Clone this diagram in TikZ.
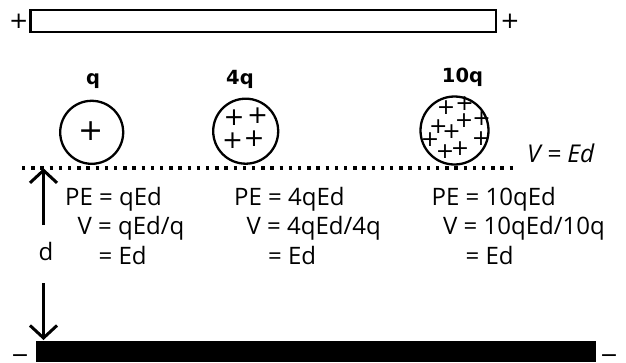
\documentclass[tikz,border=0pt]{standalone}
\usepackage{fontspec}
\setmainfont{Open Sans}
\newfontfamily\dejavu{DejaVu Sans}
\usetikzlibrary{arrows.meta}
\tikzset{
  body/.style={font=\fontsize{24}{28}\selectfont, inner sep=0pt, anchor=base west},
  lbl/.style={font=\dejavu\bfseries\fontsize{19.5}{22}\selectfont, inner sep=0pt, anchor=base},
  chg/.style={font=\dejavu\fontsize{#1}{#1}\selectfont, inner sep=0pt, anchor=center},
  mns/.style={font=\dejavu\fontsize{22}{22}\selectfont, inner sep=0pt, anchor=base},
  ball/.style={circle, draw, line width=2.3pt, inner sep=0pt},
  dist/.style={line width=3pt, -{Straight Barb[length=12.5pt,width=27pt]}}
}
\begin{document}
\begin{tikzpicture}[x=1pt,y=-1pt]
\useasboundingbox (0,0) rectangle (626,362);
% plates
\node[draw, line width=2.3pt, minimum width=465.5pt, minimum height=22pt, inner sep=0pt] (topplate) at (263.25,20.75) {};
\node[fill=black, minimum width=559.5pt, minimum height=21pt, inner sep=0pt] (botplate) at (315.75,351.5) {};
\node[chg=23] (tp1) at (18.7,21.7) {+};
\node[chg=23] (tp2) at (510,21.7) {+};
\node[mns] (m1) at (20,362) {−};
\node[mns] (m2) at (609,362) {−};
% charges
\node[ball, minimum size=63pt] (c1) at (91.7,132.3) {};
\node[ball, minimum size=65pt] (c2) at (245.7,131.2) {};
\node[ball, minimum size=68pt] (c3) at (454.5,130.5) {};
\node[lbl] (l1) at (93,84) {q};
\node[lbl] (l2) at (240,84) {4q};
\node[lbl] (l3) at (462.5,82) {10q};
\node[chg=30] (p1) at (90.8,130.8) {+};
\node[chg=25] (p2a) at (234,117.5) {+};
\node[chg=25] (p2b) at (257.5,115.8) {+};
\node[chg=25] (p2c) at (232.5,140.8) {+};
\node[chg=25] (p2d) at (254,139) {+};
\node[chg=22] (p3a) at (446,107.5) {+};
\node[chg=22] (p3b) at (464.5,103.5) {+};
\node[chg=22] (p3c) at (481.7,118.2) {+};
\node[chg=22] (p3d) at (464,121) {+};
\node[chg=22] (p3e) at (438.3,126.5) {+};
\node[chg=22] (p3f) at (451.7,131.2) {+};
\node[chg=22] (p3g) at (430.2,140) {+};
\node[chg=22] (p3h) at (481,139) {+};
\node[chg=22] (p3i) at (460,148.2) {+};
\node[chg=22] (p3j) at (445,151.7) {+};
% equipotential line
\coordinate (dl) at (22,168);
\coordinate (dr) at (518,168);
\draw[line width=3.5pt, dash pattern=on 3.3pt off 5.9pt] (dl) -- (dr);
\node[body, font=\fontsize{24.5}{28}\selectfont\itshape] (veq) at (527,162) {V = Ed};
% texts
\node[body] (t11) at (65,205) {PE = qEd};
\node[body] (t12) at (77.5,234) {V = qEd/q};
\node[body] (t13) at (98.5,264) {= Ed};
\node[body] (t21) at (234,205) {PE = 4qEd};
\node[body] (t22) at (246.5,234) {V = 4qEd/4q};
\node[body] (t23) at (268,264) {= Ed};
\node[body] (t31) at (431.5,205) {PE = 10qEd};
\node[body] (t32) at (443,234) {V = 10qEd/10q};
\node[body] (t33) at (465.5,264) {= Ed};
% distance
\node[body, anchor=base] (d) at (46,260) {d};
\coordinate (a1) at (43.5,225);
\coordinate (a2) at (43.5,168.3);
\coordinate (b1) at (43.5,283);
\coordinate (b2) at (43.5,340);
\draw[dist] (a1) -- (a2);
\draw[dist] (b1) -- (b2);
\end{tikzpicture}
\end{document}
